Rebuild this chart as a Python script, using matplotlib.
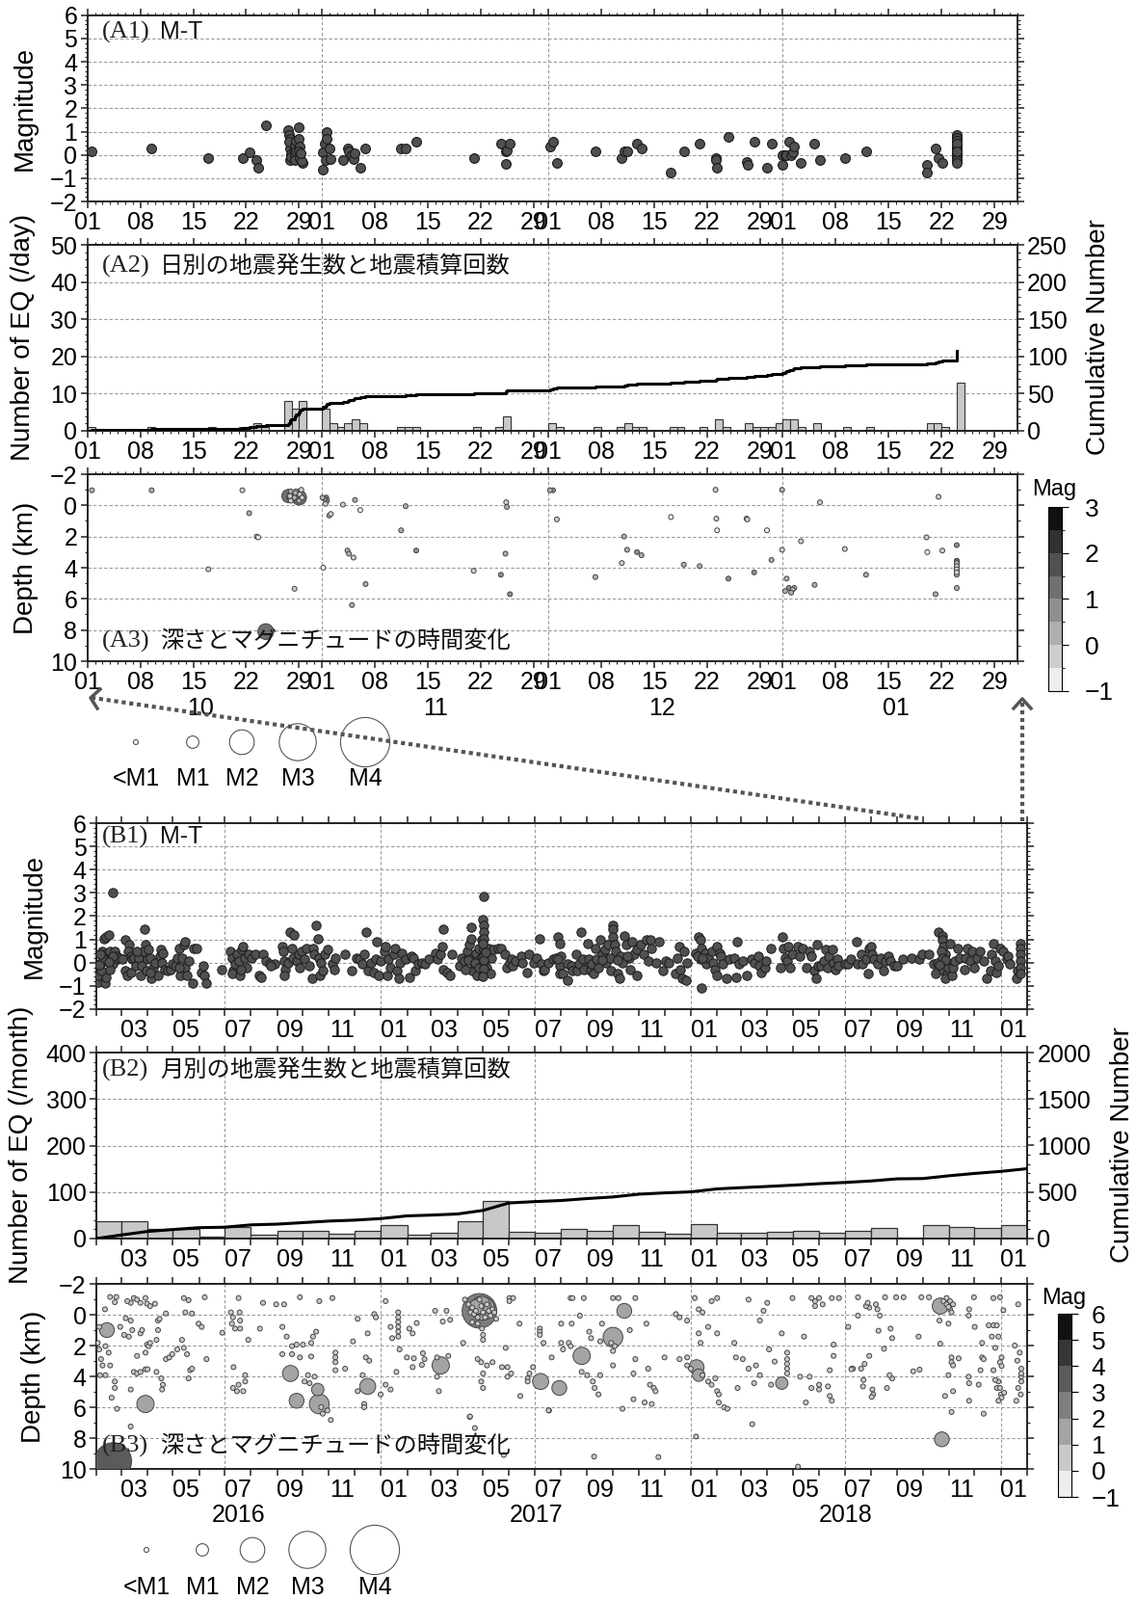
import numpy as np
import matplotlib
matplotlib.use("Agg")
import matplotlib.pyplot as plt
import matplotlib.dates as mdates
import matplotlib.transforms as mtransforms
from matplotlib.colors import ListedColormap, BoundaryNorm
from matplotlib.cm import ScalarMappable
from matplotlib.ticker import MultipleLocator, FixedLocator, FixedFormatter, NullFormatter
from datetime import datetime

plt.rcParams['font.family'] = ['Liberation Sans', 'Noto Sans CJK JP', 'DejaVu Sans']

W, H = 1179, 1660
TICK_FS = 18

# ---------------- A: Oct 2018 - Jan 2019 (days since 2018-10-01, magnitude, depth km)
a_events = [
    (0.6, 0.17, -0.97), (8.5, 0.28, -0.97), (16.0, -0.14, 4.1), (20.5, -0.14, -0.97), (21.4, 0.10, 0.5),
    (22.4, -0.20, 2.0), (22.6, -0.55, 2.05), (23.6, 1.28, 8.1),
    (26.6, 1.08, -0.6), (26.7, 0.86, -0.5), (26.8, 0.70, -0.7), (26.8, 0.28, -0.4), (26.9, 0.03, -0.9),
    (26.8, -0.20, -0.6), (26.9, -0.10, -0.3), (26.7, 0.55, -0.5),
    (27.4, 0.25, -0.5), (27.5, 0.00, -0.8), (27.4, -0.24, 5.35), (27.5, 0.40, -0.6), (27.6, 0.60, -0.4), (27.6, 0.15, -0.9),
    (28.0, 1.20, -0.5), (28.0, 0.70, -0.6), (28.1, 0.35, -0.9), (28.0, 0.14, -0.3), (28.1, -0.14, -0.7),
    (28.4, -0.35, -0.5), (28.3, -0.28, -1.0), (28.2, 0.05, -0.6),
    (31.2, -0.65, 4.0), (31.1, 0.10, -0.5), (31.4, 0.50, -0.4), (31.6, 0.97, -0.5), (31.7, 0.70, -0.3), (31.5, -0.24, -0.1),
    (32.0, 0.28, 0.65), (32.2, -0.17, 0.55),
    (33.8, -0.24, -0.05), (34.4, 0.28, 2.9), (34.6, 0.14, 3.1),
    (35.0, 0.00, 6.4), (35.2, -0.17, 3.35), (35.4, 0.05, -0.35),
    (36.1, -0.55, 0.3), (36.8, 0.28, 5.05),
    (41.5, 0.28, 1.6), (42.1, 0.28, 0.05), (43.5, 0.55, 2.9),
    (51.1, -0.14, 4.2), (54.7, 0.50, 4.45),
    (55.3, 0.14, 3.1), (55.4, -0.40, -0.2), (55.5, 0.20, 0.1), (55.9, 0.50, 5.7),
    (61.2, 0.35, -0.97), (61.6, 0.55, -0.97), (62.1, -0.35, 0.9),
    (67.2, 0.17, 4.6), (70.7, -0.14, 3.7), (71.0, 0.14, 2.0), (71.4, 0.17, 2.85), (72.7, 0.50, 3.0), (73.3, 0.28, 3.2),
    (77.2, -0.74, 0.75), (78.9, 0.17, 3.8), (81.0, 0.47, 3.9),
    (83.1, -0.14, -1.0), (83.2, -0.24, 0.85), (83.3, -0.55, 1.6), (84.8, 0.76, 4.7),
    (87.2, -0.32, 0.85), (87.3, -0.44, 0.9), (88.2, 0.55, 4.3), (89.9, -0.55, 1.6), (90.5, 0.47, 3.5),
    (91.9, 0.00, -1.0), (91.9, -0.44, 2.85), (92.3, 0.00, 5.5), (92.5, 0.00, 4.7), (92.8, 0.55, 5.3),
    (93.1, 0.00, 5.6), (93.3, 0.10, 5.4), (93.5, 0.35, 5.3), (94.4, -0.35, 2.3),
    (96.2, 0.47, 5.1), (96.9, -0.24, -0.2), (100.2, -0.14, 2.8), (103.0, 0.17, 4.45),
    (111.0, -0.44, 2.05), (111.1, -0.74, 3.0), (112.2, 0.28, 5.7), (112.6, -0.14, -0.55), (113.1, -0.35, 2.9),
    (115.0, 0.85, 2.55), (115.0, 0.75, 3.55), (115.0, 0.60, 3.8), (115.0, 0.45, 4.05), (115.0, 0.30, 4.25),
    (115.0, 0.20, 4.45), (115.0, 0.10, 5.3), (115.0, 0.00, 3.7), (115.0, -0.10, 3.9), (115.0, -0.20, 4.1),
    (115.0, -0.35, 4.3), (115.0, 0.50, 3.6), (115.0, 0.15, 4.0),
]

# ---------------- B: Feb 2016 - Jan 2019 (months since 2016-02-01, magnitude)
b1_2016 = [
    (0.06, -0.2), (0.09, -0.83), (0.06, -0.55), (0.19, 0.0), (0.31, 1.03), (0.41, 1.1), (0.5, 1.2), (0.25, 0.48),
    (0.37, 0.35), (0.43, 0.14), (0.56, 0.48), (0.62, 0.2), (0.68, -0.07), (0.75, 0.48), (0.81, 0.28), (0.87, 0.14),
    (0.93, 0.2), (0.37, -0.9), (0.41, -0.62), (0.19, -0.35), (0.56, -0.28), (0.68, 0.28), (0.29, 0.14), (0.16, 0.35),
    (0.65, 3.0), (0.12, -0.1), (0.5, 0.05),
    (1.18, 0.97), (1.3, 0.79), (1.28, 0.48), (1.37, 0.28), (1.43, 0.14), (1.16, -0.35), (1.24, -0.55), (1.37, -0.41),
    (1.49, 0.2), (1.55, -0.14), (1.68, 0.2), (1.74, -0.55), (1.8, -0.14), (1.9, 1.42), (1.93, 0.79), (1.86, 0.48),
    (1.99, 0.14), (1.06, 0.14), (1.61, 0.48), (1.95, -0.35),
    (2.05, 0.55), (2.11, 0.2), (2.17, -0.69), (2.24, -0.2), (2.3, 0.0), (2.42, -0.55), (2.48, 0.28), (2.55, 0.55),
    (2.57, 0.0), (2.61, 0.41), (2.7, -0.28), (2.8, -0.35), (2.92, -0.28), (2.98, -0.07), (2.11, -0.41),
    (3.11, -0.14), (3.17, 0.2), (3.23, 0.62), (3.29, -0.55), (3.35, 0.2), (3.42, 0.76), (3.45, 0.9), (3.48, -0.2),
    (3.54, -0.55), (3.6, 0.07), (3.76, -0.9), (3.79, 0.62), (3.91, 0.62), (3.23, -0.2),
    (4.1, -0.41), (4.16, -0.14), (4.22, -0.55), (4.29, -0.9), (4.88, -0.28),
    (5.22, 0.48), (5.28, 0.2), (5.34, -0.35), (5.28, -0.48), (5.4, -0.07), (5.47, 0.35), (5.53, 0.07), (5.59, -0.55),
    (5.65, 0.55), (5.71, 0.69), (5.78, 0.2), (5.84, -0.2), (5.9, 0.35), (5.63, -0.28),
    (6.02, 0.2), (6.15, 0.35), (6.3, -0.55), (6.4, -0.62), (6.46, 0.35), (6.58, 0.07), (6.71, -0.07), (6.89, -0.07),
    (6.77, -0.14),
    (7.2, 0.69), (7.24, 0.48), (7.27, 0.07), (7.33, -0.28), (7.27, -0.55), (7.42, 0.0), (7.52, 1.31), (7.58, 0.62),
    (7.61, 0.2), (7.66, 1.2), (7.76, 0.07), (7.83, 0.35), (7.89, -0.2), (7.95, 0.48),
    (8.07, 0.14), (8.14, 0.62), (8.26, -0.14), (8.36, -0.69), (8.39, 0.62), (8.45, 0.35), (8.51, 1.59), (8.57, 1.03),
    (8.63, 0.2), (8.66, -0.55), (8.7, 0.0), (8.76, -0.35), (8.82, 0.35), (8.94, 0.55),
    (9.13, -0.07), (9.19, -0.28), (9.25, 0.2), (9.63, 0.35), (9.9, -0.35),
    (10.06, 0.2), (10.19, 0.14), (10.31, -0.07), (10.37, 0.35), (10.43, 1.31), (10.5, -0.35), (10.62, 0.0),
    (10.75, -0.41), (10.81, 0.14), (10.84, 0.9), (10.93, -0.55), (10.99, 0.07),
]
b1_2017 = [
    (11.12, 0.48), (11.18, 0.69), (11.24, -0.55), (11.3, 0.14), (11.37, -0.2), (11.49, 0.35), (11.55, 0.62),
    (11.61, -0.35), (11.68, -0.69), (11.74, 0.0), (11.8, 0.41), (11.93, 0.14), (12.11, -0.62),
    (12.17, 0.28), (12.24, 0.2), (12.36, -0.35), (12.48, -0.07), (12.61, 0.0), (12.73, -0.07), (12.92, 0.14),
    (13.17, 0.41), (13.23, 0.14), (13.35, 0.35), (13.42, 0.69), (13.48, 1.42), (13.48, -0.28), (13.6, -0.41),
    (13.73, -0.55), (13.79, 0.35),
    (14.1, -0.14), (14.16, 0.2), (14.29, 0.07), (14.41, 0.48), (14.47, 0.76), (14.53, 1.52), (14.53, 1.03),
    (14.6, 0.2), (14.6, -0.35), (14.66, -0.07), (14.72, 0.41), (14.78, -0.55), (14.84, 0.62), (14.91, 0.2),
    (14.94, -0.2), (14.97, 0.97), (14.3, -0.3), (14.45, 0.1), (14.7, 0.0), (14.85, -0.2),
    (15.0, 1.86), (15.02, 1.59), (15.02, 1.31), (15.04, 1.03), (15.02, 0.55), (15.02, 0.0), (15.02, -0.48),
    (15.09, 0.35), (15.16, -0.2), (15.22, 0.62), (15.28, -0.48), (15.34, 0.2), (15.4, 0.55), (15.59, 0.62),
    (15.71, 0.62), (15.84, 0.35), (15.9, -0.2), (15.03, 2.85), (15.01, 0.8), (15.01, 0.25), (15.03, -0.25),
    (15.05, 0.1), (15.12, 0.45), (15.0, -0.6),
    (16.02, 0.0), (16.09, 0.14), (16.15, -0.14), (16.27, 0.07), (16.46, 0.28), (16.52, 0.0), (16.71, -0.41),
    (16.77, 0.35), (16.96, 0.0),
    (17.08, 0.2), (17.2, 1.03), (17.27, -0.07), (17.33, -0.35), (17.39, -0.28), (17.52, 0.0), (17.7, 0.14),
    (17.83, 0.2), (17.95, -0.14), (17.89, 1.1), (17.95, 0.83), (18.01, 0.28), (17.89, 0.14), (17.95, -0.48),
    (18.07, -0.48), (18.26, -0.07), (18.26, -0.76), (18.39, -0.14), (18.45, -0.35), (18.57, 0.35), (18.63, -0.35),
    (18.7, -0.07), (18.76, 1.31), (18.88, -0.28), (18.94, 0.07), (18.82, 0.14),
    (19.01, 0.83), (19.07, 0.14), (19.13, -0.35), (19.19, -0.07), (19.25, -0.48), (19.32, 0.62), (19.38, 0.14),
    (19.5, 0.97), (19.57, 0.35), (19.69, 0.55), (19.75, 0.0), (19.81, 0.76), (19.88, 0.2), (19.94, -0.35),
    (19.99, 1.59), (19.99, 1.45), (19.99, 1.1), (19.6, 0.1), (19.45, -0.2),
    (20.06, 0.76), (20.12, 0.48), (20.19, -0.48), (20.25, -0.69), (20.31, 0.28), (20.37, 0.0), (20.43, 1.17),
    (20.5, 0.76), (20.62, 0.2), (20.68, -0.28), (20.75, 0.9), (20.81, 0.35), (20.91, -0.55), (20.93, 0.55),
    (20.2, 0.1), (20.55, 0.3),
    (21.06, 0.76), (21.18, 0.35), (21.3, 0.97), (21.37, 0.07), (21.43, 0.97), (21.49, 0.62), (21.68, 0.0),
    (21.8, 0.9), (21.93, -0.35),
    (22.05, 0.07), (22.17, 0.0), (22.42, -0.48), (22.48, 0.2), (22.55, 0.69), (22.61, -0.28), (22.67, -0.69),
    (22.73, 0.48), (22.8, -0.76), (22.86, 0.0),
]
b1_2018 = [
    (23.17, 0.41), (23.29, 1.1), (23.35, 0.97), (23.35, 0.14), (23.39, -1.1), (23.42, 0.62), (23.54, 0.41),
    (23.6, -0.07), (23.66, 0.2), (23.79, 0.48), (23.85, 0.0), (23.91, -0.28), (23.98, 0.69), (23.98, -0.55),
    (23.25, 0.3), (23.45, 0.2),
    (24.1, 0.41), (24.16, 0.28), (24.22, -0.07), (24.41, -0.69), (24.53, 0.14), (24.72, 0.2), (24.78, -0.62),
    (24.84, 0.9), (24.91, -0.07),
    (25.09, 0.07), (25.22, -0.55), (25.4, 0.14), (25.53, 0.0), (25.65, 0.28), (25.71, -0.14), (25.78, -0.41),
    (25.9, -0.2), (25.96, 0.07),
    (26.15, 0.62), (26.52, -0.2), (26.58, 1.1), (26.65, 0.62), (26.71, 0.2), (26.77, 0.07), (26.83, 0.69),
    (26.89, -0.2), (26.96, 0.35),
    (27.2, 0.69), (27.27, 0.28), (27.39, 0.62), (27.52, -0.2), (27.64, 0.48), (27.7, 0.28), (27.83, -0.35),
    (27.89, -0.69), (27.91, 0.76), (27.95, -0.14),
    (28.07, -0.14), (28.2, 0.07), (28.26, 0.55), (28.32, -0.2), (28.39, 0.28), (28.51, 0.55), (28.57, 0.0),
    (28.63, -0.28), (28.7, 0.14), (28.76, -0.14), (29.01, -0.07),
    (29.13, -0.07), (29.25, 0.14), (29.44, 0.9), (29.5, -0.07), (29.63, 0.35), (29.69, -0.07), (29.81, 0.14),
    (29.88, -0.48), (29.94, 0.62), (30.0, 0.69),
    (30.06, 0.35), (30.12, 0.14), (30.25, -0.07), (30.37, 0.2), (30.5, -0.35), (30.56, 0.07), (30.68, 0.28),
    (30.75, 0.07), (30.87, -0.14), (30.99, -0.14),
    (31.24, 0.14), (31.55, 0.2), (31.86, 0.14), (31.99, 0.35),
    (32.24, 0.35), (32.42, -0.07), (32.48, -0.48), (32.55, 0.0), (32.61, 1.31), (32.73, 1.17), (32.76, 0.97),
    (32.8, 0.69), (32.86, 0.35), (32.92, 0.0), (32.8, -0.35), (32.92, -0.48), (32.98, -0.2), (32.86, -0.69),
    (32.7, 0.5), (32.75, 0.2), (32.85, 0.1), (32.65, -0.1),
    (33.04, 0.83), (33.11, -0.55), (33.17, -0.2), (33.23, 0.07), (33.33, 0.62), (33.42, 0.2), (33.6, -0.28),
    (33.66, 0.2), (33.73, 0.62), (33.85, 0.07), (33.91, 0.48), (33.98, -0.2),
    (34.1, 0.2), (34.22, 0.48), (34.35, 0.07), (34.47, -0.69), (34.6, -0.35), (34.66, 0.35), (34.72, 0.83),
    (34.78, 0.07), (34.84, -0.41), (34.91, -0.14), (34.97, 0.62),
    (35.09, 0.48), (35.22, 0.14), (35.28, 0.28), (35.34, -0.07), (35.59, -0.69), (35.65, -0.35), (35.74, 0.83),
    (35.74, 0.62), (35.74, 0.35), (35.74, 0.07), (35.74, -0.2), (35.74, -0.48),
]

# monthly counts Feb 2016 .. Jan 2019
b2_counts = [38, 38, 21, 20, 5, 25, 8, 16, 17, 10, 17,
             29, 8, 12, 38, 81, 14, 12, 21, 17, 30, 14, 11,
             32, 13, 13, 14, 16, 13, 16, 23, 3, 30, 25, 22, 29]

# (months since 2016-02-01, depth km, magnitude)
b3_2016 = [
    (0.35, -0.35, 0.3), (0.56, -1.15, 0.2), (0.81, -1.15, 0.2), (0.75, -0.81, 0.3), (0.43, 1.0, 1.2), (0.12, 0.79, 0.3),
    (0.06, 1.83, 0.3), (0.12, 2.25, 0.3), (0.19, 2.88, 0.3), (0.25, 3.29, 0.3), (0.15, 3.92, 0.3), (0.37, 2.04, 0.3),
    (0.5, 2.46, 0.3), (0.56, 3.29, 0.3), (0.37, 3.92, 0.3), (0.62, 5.38, 0.3), (0.75, 4.75, 0.3), (0.75, 4.33, 0.3),
    (0.84, 6.1, 0.3), (0.97, 0.79, 0.3), (0.68, 9.5, 3.0),
    (1.12, 1.31, 0.3), (1.18, 0.23, 0.3), (1.24, -0.88, 0.2), (1.37, -0.77, 0.2), (1.49, -1.08, 0.2), (1.61, -0.98, 0.2),
    (1.74, -0.77, 0.2), (1.93, -1.08, 0.2), (1.99, -0.71, 0.2), (2.11, -0.56, 0.2), (2.3, -0.71, 0.2),
    (1.3, 1.42, 0.3), (1.43, 1.0, 0.3), (1.37, 0.38, 0.3), (1.61, 2.67, 0.3), (1.74, 1.21, 0.3), (1.8, 1.0, 0.3),
    (1.99, 1.94, 0.3), (2.05, 2.04, 0.3), (2.11, 1.83, 0.3), (1.93, 2.46, 0.3), (2.36, 1.63, 0.3), (2.42, 1.0, 0.3),
    (2.42, 0.38, 0.3), (2.48, 0.27, 0.3), (2.73, -0.08, 0.3),
    (1.49, 3.71, 0.3), (1.61, 3.81, 0.3), (1.74, 3.71, 0.3), (1.93, 3.54, 0.3), (2.01, 3.54, 0.3), (1.37, 4.85, 0.3),
    (1.93, 5.79, 1.4), (1.37, 7.25, 0.3),
    (2.36, 3.71, 0.3), (2.55, 4.13, 0.3), (2.61, 4.54, 0.3), (2.58, 4.85, 0.3), (2.73, 2.88, 0.3), (2.86, 2.77, 0.3),
    (2.98, 2.56, 0.3), (3.17, 2.25, 0.3), (3.35, 1.63, 0.3), (3.42, 2.15, 0.3), (3.54, 2.56, 0.3), (3.6, 4.13, 0.3),
    (3.66, 3.6, 0.3), (3.73, 3.5, 0.3),
    (3.42, -1.08, 0.2), (3.6, -0.94, 0.2), (4.22, -1.13, 0.2), (3.48, -0.15, 0.2), (3.73, -0.08, 0.2), (3.98, 0.58, 0.3),
    (4.1, 0.79, 0.3), (4.29, 2.88, 0.3), (4.91, 1.17, 0.3),
    (5.24, -0.15, 0.2), (5.32, 0.17, 0.2), (5.28, 0.58, 0.3), (5.4, 0.9, 0.3), (5.53, -1.08, 0.2), (5.57, -0.15, 0.3),
    (5.59, 0.38, 0.3), (5.59, 0.9, 0.3), (5.34, 3.4, 0.3), (5.32, 4.75, 0.3), (5.47, 4.96, 0.3), (5.53, 4.54, 0.3),
    (5.71, 4.96, 0.3), (5.78, 4.33, 0.3), (5.78, 3.92, 0.3), (5.9, 1.63, 0.3),
    (6.34, 0.9, 0.3), (6.46, -0.77, 0.2), (6.96, -0.67, 0.3), (7.27, -0.67, 0.3), (7.89, -1.13, 0.2), (8.63, -0.88, 0.2),
    (9.13, -1.08, 0.2), (7.2, 0.79, 0.3), (7.37, 1.42, 0.3), (7.58, 2.04, 0.3), (7.76, 1.94, 0.3), (8.01, 1.94, 0.3),
    (8.39, 1.42, 0.3), (8.32, 1.83, 0.3), (8.51, 1.1, 0.3), (7.2, 2.56, 0.3), (7.58, 2.56, 0.3), (7.89, 2.77, 0.3),
    (8.32, 2.71, 0.3), (7.52, 3.81, 1.3), (7.76, 5.58, 1.2), (8.63, 5.79, 1.6), (8.57, 4.85, 1.0), (8.2, 3.92, 0.3),
    (8.26, 4.44, 0.3), (8.07, 4.33, 0.3), (8.45, 4.02, 0.3), (8.7, 6.0, 0.3), (8.76, 6.42, 0.3), (8.94, 6.21, 0.3),
    (9.07, 6.83, 0.3), (9.25, 2.46, 0.3), (9.25, 2.77, 0.3), (9.25, 3.08, 0.3), (9.25, 3.6, 0.3), (9.63, 3.5, 0.3),
    (9.94, 1.73, 0.3), (10.12, 0.27, 0.3), (10.5, 1.21, 0.3), (10.43, 2.77, 0.3), (10.56, 2.98, 0.3),
    (10.12, 4.96, 0.3), (10.31, 3.92, 0.3), (10.37, 5.79, 0.3), (10.37, 6.0, 0.3), (10.5, 4.65, 1.3),
    (10.75, -0.04, 0.3), (10.81, 0.17, 0.3), (11.18, -0.88, 0.2), (11.37, 0.79, 0.3), (11.43, 1.52, 0.3),
    (10.99, 5.17, 0.3), (11.18, 4.54, 0.3), (11.37, 4.85, 0.3),
]
b3_2017 = [
    (11.66, -0.15, 0.3), (11.66, 0.17, 0.3), (11.66, 0.48, 0.3), (11.66, 0.79, 0.3), (11.66, 1.1, 0.3), (11.66, 1.42, 0.3),
    (12.09, 0.9, 0.3), (12.4, 0.54, 0.3), (12.23, 1.21, 0.3), (11.71, 2.25, 0.3), (11.59, 3.71, 0.3), (11.99, 2.77, 0.3),
    (12.28, 2.83, 0.3), (12.66, 2.5, 0.3), (12.73, 2.88, 0.3), (12.23, 3.4, 0.3), (12.62, 3.25, 0.3),
    (13.16, -0.25, 0.3), (13.59, -0.25, 0.3), (13.45, 0.44, 0.3), (13.73, 0.33, 0.3), (13.37, 3.29, 1.4),
    (13.23, 4.02, 0.3), (13.3, 4.96, 0.3), (13.23, 2.77, 0.3), (13.66, 2.67, 0.3),
    (14.23, 1.83, 0.3), (14.49, 6.63, 0.3), (14.87, -0.25, 2.8), (15.0, -0.4, 1.9), (14.95, -0.6, 1.5), (14.75, -0.5, 1.2),
    (14.3, -0.98, 0.2), (14.44, -0.67, 0.3), (14.59, -0.46, 0.3), (14.66, -0.04, 0.3), (14.73, -0.25, 0.3),
    (14.8, 0.17, 0.3), (14.87, -0.98, 0.2), (14.94, -0.56, 0.3), (15.01, -0.15, 0.3), (15.09, 0.17, 0.3),
    (15.16, -0.67, 0.3), (15.23, -0.25, 0.3), (15.3, 0.06, 0.3), (15.37, -0.35, 0.3), (15.44, -0.15, 0.3),
    (15.51, 0.27, 0.3), (14.52, -0.15, 0.3), (14.59, 0.48, 0.3), (14.8, 0.58, 0.3),
    (14.97, 0.9, 0.3), (15.01, 1.31, 0.3), (15.01, 1.63, 0.3), (14.8, 2.88, 0.3), (14.94, 3.08, 0.3), (15.16, 3.29, 0.3),
    (15.37, 3.08, 0.3), (15.73, 3.4, 0.3), (15.01, 3.81, 0.3), (14.94, 4.33, 0.3), (15.01, 4.75, 0.3),
    (16.01, -1.08, 0.2), (16.16, -1.08, 0.2), (16.01, -0.88, 0.2), (16.41, 0.58, 0.3), (15.87, 2.15, 0.3),
    (15.94, 3.4, 0.3), (16.08, 3.81, 0.3), (15.94, 4.02, 0.3), (16.44, 5.27, 0.3), (16.94, 3.4, 0.3), (16.8, 3.81, 0.3),
    (16.73, 4.13, 0.3), (16.73, 4.33, 0.3), (17.23, 4.33, 1.3),
    (17.2, 0.9, 0.3), (17.2, 1.1, 0.3), (17.2, 1.31, 0.3), (17.34, 1.83, 0.3), (17.65, 2.77, 0.3), (18.01, 0.58, 0.3),
    (18.41, 0.58, 0.3), (18.01, 1.83, 0.3), (18.08, 2.25, 0.3), (18.3, 1.83, 0.3), (18.37, 2.04, 0.3),
    (17.94, 4.75, 1.2), (17.55, 6.21, 0.3),
    (18.37, -1.08, 0.2), (18.87, -1.08, 0.2), (18.44, -1.08, 0.2), (18.72, 0.06, 0.3), (19.08, 1.1, 0.3),
    (19.15, 1.52, 0.3), (18.79, 2.67, 1.4), (18.79, 3.71, 0.3), (19.0, 3.92, 0.3), (19.22, 4.33, 0.3),
    (19.51, 3.92, 0.3), (19.29, 4.75, 0.3), (19.44, 5.17, 0.3), (19.58, 0.58, 0.3), (19.51, 1.73, 0.3),
    (20.01, -1.08, 0.2), (20.22, -1.08, 0.2), (20.86, -1.08, 0.2), (20.44, -0.25, 1.2), (20.01, 1.46, 1.6),
    (19.94, 1.83, 0.3), (20.08, 2.04, 0.3), (20.01, 2.35, 0.3), (20.65, 1.0, 0.3), (21.29, 0.58, 0.3),
    (20.01, 3.29, 0.3), (20.86, 2.88, 0.3), (20.79, 3.81, 0.3), (21.36, 3.5, 0.3), (21.43, 4.54, 0.3),
    (21.58, 4.75, 0.3), (21.65, 4.96, 0.3), (20.37, 6.1, 0.3), (20.79, 5.48, 0.3), (21.22, 5.69, 0.3), (21.5, 5.79, 0.3),
    (22.0, 2.77, 0.3), (22.57, 2.88, 0.3), (22.86, 2.77, 0.3), (22.43, -0.04, 0.3), (22.57, 0.17, 0.3), (22.86, 0.38, 0.3),
    (15.8, 9.1, 0.3), (14.5, 6.6, 0.3), (14.69, 7.35, 0.3), (17.53, 6.2, 0.3), (19.27, 9.2, 0.3), (21.76, 9.23, 0.3),
]
b3_2018 = [
    (23.15, -1.08, 0.2), (24.0, -1.08, 0.2), (23.79, -0.88, 0.2), (23.3, -0.35, 0.3), (23.44, -0.15, 0.3),
    (23.3, 1.21, 0.3), (23.66, 0.79, 0.3), (24.0, 1.21, 0.3), (23.37, 1.83, 0.3), (23.22, 3.4, 1.2), (23.3, 3.92, 1.0),
    (23.0, 3.5, 0.3), (22.86, 3.29, 0.3), (23.93, 4.13, 0.3), (24.0, 4.96, 0.3), (24.07, 5.17, 0.3), (24.29, 6.0, 0.3),
    (24.43, 6.1, 0.3), (24.07, 5.69, 0.3), (23.44, 3.92, 0.3), (23.66, 4.33, 0.3), (23.79, 4.54, 0.3), (23.2, 7.9, 0.3),
    (24.72, 1.83, 0.3), (24.79, 2.77, 0.3), (25.29, -0.98, 0.2), (25.07, 2.88, 0.3), (24.86, 4.75, 0.3),
    (25.72, 0.38, 0.3), (25.86, -0.25, 0.3), (26.0, -0.77, 0.2), (26.57, 1.21, 0.3), (26.07, 2.25, 0.3),
    (26.78, 2.46, 0.3), (26.78, 2.88, 0.3), (26.78, 3.19, 0.3), (26.78, 3.5, 0.3), (26.78, 3.81, 0.3),
    (26.57, 4.44, 1.0), (25.29, 3.5, 0.3), (25.57, 3.29, 0.3), (25.72, 3.92, 0.3), (25.5, 4.44, 0.3),
    (26.15, 4.54, 0.3), (26.29, 3.04, 0.3), (25.43, 7.1, 0.3), (27.2, 9.85, 0.3),
    (26.99, -1.08, 0.2), (27.71, -1.08, 0.2), (28.0, -1.08, 0.2), (28.5, -1.08, 0.2), (28.78, -1.08, 0.2),
    (27.85, -0.88, 0.2), (27.85, -0.56, 0.3), (28.14, -0.67, 0.3), (27.43, 1.42, 0.3), (28.57, 1.94, 0.3),
    (28.57, 2.67, 0.3), (29.14, 0.79, 0.3), (28.42, 3.6, 0.3), (29.28, 3.5, 0.3), (27.28, 4.02, 0.3),
    (27.64, 4.02, 0.3), (27.71, 4.75, 0.3), (28.0, 4.85, 0.3), (28.35, 4.65, 0.3), (28.42, 5.27, 0.3),
    (28.5, 5.58, 0.3), (27.5, 5.69, 0.3), (28.0, 4.54, 0.3),
    (29.51, -1.13, 0.2), (29.88, -0.77, 0.2), (29.94, -0.46, 0.3), (30.19, -0.67, 0.3), (30.25, -0.35, 0.3),
    (30.34, 0.06, 0.3), (29.51, 0.06, 0.3), (29.82, -0.56, 0.3), (30.54, -1.13, 0.2), (30.96, -1.13, 0.2),
    (31.25, -1.13, 0.2), (31.95, -1.13, 0.2), (32.24, -1.13, 0.2), (30.29, 1.04, 0.3), (30.75, 0.9, 0.3),
    (30.81, 1.52, 0.3), (30.5, 2.21, 0.3), (29.94, 2.67, 0.3), (29.76, 3.19, 0.3), (29.63, 3.5, 0.3),
    (29.32, 3.5, 0.3), (29.26, 3.54, 0.3), (29.72, 4.23, 0.3), (29.7, 4.65, 0.3), (30.06, 4.85, 0.3),
    (30.09, 5.17, 0.3), (30.03, 5.33, 0.3), (30.61, 4.75, 0.3), (30.71, 3.92, 0.3), (30.81, 4.13, 0.3),
    (31.63, 3.67, 0.3), (31.88, 3.56, 0.3), (31.84, 1.42, 0.3),
    (32.67, -0.56, 1.3), (32.79, -0.88, 0.3), (32.91, -0.67, 0.3), (32.98, -0.5, 0.3), (33.04, -0.35, 0.3),
    (33.1, -0.15, 0.3), (32.91, -1.08, 0.2), (33.04, -0.88, 0.3), (33.16, -0.67, 0.3), (32.64, 0.38, 0.3),
    (32.98, 0.58, 0.3), (32.67, 1.88, 0.3), (32.73, 8.08, 1.2), (33.1, 2.77, 0.3), (33.1, 3.08, 0.3),
    (33.16, 3.29, 0.3), (33.38, 2.83, 0.3), (32.98, 3.92, 0.3), (32.85, 5.27, 0.3), (33.16, 4.96, 0.3),
    (33.1, 6.31, 0.3), (33.79, -0.35, 0.3), (33.77, 0.06, 0.3), (33.98, -1.13, 0.2), (34.01, 0.79, 0.3),
    (34.29, 1.83, 0.3), (34.29, 2.77, 0.3), (34.35, 2.88, 0.3), (34.23, 3.6, 0.3), (33.77, 4.02, 0.3),
    (33.79, 4.44, 0.3), (34.16, 4.54, 0.3), (33.79, 5.58, 0.3), (34.35, 6.42, 0.3), (34.54, 0.69, 0.3),
    (34.72, 0.69, 0.3), (34.85, 0.69, 0.3), (34.66, 1.42, 0.3), (34.91, 1.42, 0.3), (34.79, 2.15, 0.3),
    (35.03, 2.77, 0.3), (34.97, 3.08, 0.3), (35.03, 3.33, 0.3), (34.72, 3.6, 0.3), (34.79, 4.23, 0.3),
    (34.91, 4.33, 0.3), (34.85, 4.75, 0.3), (34.97, 4.75, 0.3), (35.01, 5.17, 0.3), (35.03, 5.38, 0.3),
    (34.91, 5.58, 0.3), (35.13, 5.06, 0.3), (34.72, -1.08, 0.2), (34.97, -1.13, 0.2), (35.1, -0.29, 0.3),
    (35.66, -0.67, 0.3), (35.53, 2.0, 0.3), (35.63, 2.98, 0.3), (35.72, 2.46, 0.3), (35.78, 3.5, 0.3),
    (35.78, 3.81, 0.3), (35.78, 4.02, 0.3), (35.78, 4.33, 0.3), (35.66, 4.75, 0.3), (35.76, 5.17, 0.3),
    (35.59, 5.58, 0.3),
]

legend_mags = [0.5, 1, 2, 3, 4]
legend_labels = ['<M1', 'M1', 'M2', 'M3', 'M4']


def month_start(i):
    # i months after 2016-02-01
    y = 2016 + (1 + i) // 12
    m = (1 + i) % 12 + 1
    return mdates.date2num(datetime(y, m, 1))


def month_num(t):
    i = int(np.floor(t))
    a, b = month_start(i), month_start(i + 1)
    return a + (t - i) * (b - a)


A0 = mdates.date2num(datetime(2018, 10, 1))


def msize(m):
    d = 5.0 if m < 1 else 12.8 * m
    return (d * 0.72) ** 2


def px_axes(fig, l, t, r, b):
    return fig.add_axes([l / W, 1 - b / H, (r - l) / W, (b - t) / H])


GRID = dict(color='#9a9a9a', ls=(0, (3, 2)), lw=0.8)


def style(ax, right=True):
    for s in ax.spines.values():
        s.set_linewidth(1.4)
        s.set_color('#222222')
    ax.tick_params(which='both', direction='out', top=True, right=right, color='#222222', labelsize=TICK_FS)
    ax.tick_params(which='major', length=5, width=1.1, pad=2.5)
    ax.tick_params(which='minor', length=2.5, width=0.8)


def a_xaxis(ax):
    ax.set_xlim(A0, A0 + 123)
    majors = []
    for y, m in [(2018, 10), (2018, 11), (2018, 12), (2019, 1)]:
        for d in [1, 8, 15, 22, 29]:
            majors.append(mdates.date2num(datetime(y, m, d)))
    ax.xaxis.set_major_locator(FixedLocator(majors))
    ax.xaxis.set_major_formatter(FixedFormatter(['%02d' % mdates.num2date(v).day for v in majors]))
    ax.xaxis.set_minor_locator(FixedLocator(np.arange(A0, A0 + 124)))
    for y, m in [(2018, 11), (2018, 12), (2019, 1)]:
        ax.axvline(mdates.date2num(datetime(y, m, 1)), **GRID, zorder=0)


def b_xaxis(ax):
    starts = [month_start(i) for i in range(37)]
    ax.set_xlim(starts[0], starts[-1])
    ax.xaxis.set_major_locator(FixedLocator(starts))
    ax.xaxis.set_major_formatter(NullFormatter())
    mids, labs = [], []
    for i in range(36):
        mo = mdates.num2date(starts[i]).month
        if mo % 2 == 1:
            mids.append((starts[i] + starts[i + 1]) / 2)
            labs.append('%02d' % mo)
    ax.xaxis.set_minor_locator(FixedLocator(mids))
    ax.xaxis.set_minor_formatter(FixedFormatter(labs))
    ax.tick_params(axis='x', which='minor', length=0, pad=7.5, labelsize=TICK_FS)
    ax.tick_params(axis='x', which='major', length=5)
    for i in range(37):
        mo = mdates.num2date(starts[i]).month
        if mo in (1, 7) and 0 < i < 36:
            ax.axvline(starts[i], **GRID, zorder=0)


def mag_axis(ax):
    ax.set_ylim(-2, 6)
    ax.yaxis.set_major_locator(MultipleLocator(1))
    ax.yaxis.set_minor_locator(MultipleLocator(0.2))
    ax.grid(axis='y', which='major', **GRID)
    ax.set_axisbelow(True)


def depth_axis(ax):
    ax.set_ylim(10, -2)
    ax.yaxis.set_major_locator(MultipleLocator(2))
    ax.yaxis.set_minor_locator(MultipleLocator(1))
    ax.grid(axis='y', which='major', **GRID)
    ax.set_axisbelow(True)


def gray_cmap(n):
    return ListedColormap(plt.cm.gray_r(np.linspace(0.07, 0.93, n)))


fig = plt.figure(figsize=(W / 100, H / 100), dpi=100)

a_t = np.array([A0 + e[0] for e in a_events])
a_m = np.array([e[1] for e in a_events])
a_d = np.array([e[2] for e in a_events])

# ---- A1
ax = px_axes(fig, 90.7, 15.7, 1055.7, 209)
style(ax)
mag_axis(ax)
a_xaxis(ax)
ax.scatter(a_t, a_m, s=50, facecolor='#505050', edgecolor='#1a1a1a', linewidth=0.8, zorder=3)

# ---- A2
ax = px_axes(fig, 90.7, 254, 1055.7, 447)
style(ax, right=False)
a_xaxis(ax)
ax.set_ylim(0, 50)
ax.yaxis.set_major_locator(MultipleLocator(10))
ax.yaxis.set_minor_locator(MultipleLocator(2))
ax.grid(axis='y', which='major', **GRID)
ax.set_axisbelow(True)
day_idx = np.floor(a_t - A0).astype(int)
daily = np.bincount(day_idx, minlength=123)
days = A0 + np.arange(len(daily))
ax.bar(days[daily > 0], daily[daily > 0], width=1, align='edge', color='#c8c8c8', edgecolor='#333333',
       linewidth=0.8, zorder=2)
axr = ax.twinx()
style(axr)
axr.tick_params(which='both', left=False, top=False)
axr.set_ylim(0, 250)
axr.yaxis.set_major_locator(MultipleLocator(50))
axr.yaxis.set_minor_locator(MultipleLocator(10))
ts = np.sort(a_t)
axr.step(np.concatenate([[A0], ts]), np.arange(len(ts) + 1), where='post', color='black', lw=2.2, zorder=4)

# ---- A3
ax = px_axes(fig, 90.7, 492, 1055.7, 686)
style(ax)
depth_axis(ax)
a_xaxis(ax)
cmap_a = gray_cmap(8)
norm_a = BoundaryNorm(np.arange(-1, 3.01, 0.5), 8)
order = np.argsort(-a_m)
ax.scatter(a_t[order], a_d[order], s=[msize(v) for v in a_m[order]], c=a_m[order], cmap=cmap_a, norm=norm_a,
           edgecolor='#444444', linewidth=0.7, zorder=3)
tr = mtransforms.blended_transform_factory(ax.transData, ax.transAxes)
for y, m, lab in [(2018, 10, '10'), (2018, 11, '11'), (2018, 12, '12'), (2019, 1, '01')]:
    ax.text(mdates.date2num(datetime(y, m, 16)), -0.255, lab, transform=tr, ha='center', va='center',
            fontsize=TICK_FS)
cax = px_axes(fig, 1088, 526, 1102, 717)
cb = fig.colorbar(ScalarMappable(norm=norm_a, cmap=cmap_a), cax=cax, ticks=[-1, 0, 1, 2, 3])
cb.outline.set_linewidth(0.8)
cax.tick_params(labelsize=19, length=5, width=0.8, pad=12)

# ---- B data
b1 = b1_2016 + b1_2017 + b1_2018
b1_t = np.array([month_num(t) for t, _ in b1])
b1_m = np.array([m for _, m in b1])
b3 = b3_2016 + b3_2017 + b3_2018
b3_t = np.array([month_num(e[0]) for e in b3])
b3_d = np.array([e[1] for e in b3])
b3_m = np.array([e[2] for e in b3])

# ---- B1
ax = px_axes(fig, 100, 854, 1066, 1047)
style(ax)
mag_axis(ax)
b_xaxis(ax)
ax.scatter(b1_t, b1_m, s=46, facecolor='#505050', edgecolor='#1a1a1a', linewidth=0.7, zorder=3)

# ---- B2
ax = px_axes(fig, 100, 1092, 1066, 1285)
style(ax, right=False)
b_xaxis(ax)
ax.set_ylim(0, 400)
ax.yaxis.set_major_locator(MultipleLocator(100))
ax.yaxis.set_minor_locator(MultipleLocator(20))
ax.grid(axis='y', which='major', **GRID)
ax.set_axisbelow(True)
starts = np.array([month_start(i) for i in range(37)])
ax.bar(starts[:-1], b2_counts, width=np.diff(starts), align='edge', color='#c8c8c8', edgecolor='#333333',
       linewidth=0.9, zorder=2)
axr = ax.twinx()
style(axr)
axr.tick_params(which='both', left=False, top=False)
axr.set_ylim(0, 2000)
axr.yaxis.set_major_locator(MultipleLocator(500))
axr.yaxis.set_minor_locator(MultipleLocator(100))
axr.plot(starts, np.concatenate([[0], np.cumsum(b2_counts)]), color='black', lw=2.2, zorder=4)

# ---- B3
ax = px_axes(fig, 100, 1332, 1066, 1524)
style(ax)
depth_axis(ax)
b_xaxis(ax)
cmap_b = gray_cmap(7)
norm_b = BoundaryNorm(np.arange(-1, 6.01, 1), 7)
order = np.argsort(-b3_m)
ax.scatter(b3_t[order], b3_d[order], s=[msize(v) for v in b3_m[order]], c=b3_m[order], cmap=cmap_b, norm=norm_b,
           edgecolor='#444444', linewidth=0.7, zorder=3)
tr = mtransforms.blended_transform_factory(ax.transData, ax.transAxes)
for lab, a, b in [('2016', month_start(0), month_start(11)), ('2017', month_start(11), month_start(23)),
                  ('2018', month_start(23), month_start(35))]:
    ax.text((a + b) / 2, -0.25, lab, transform=tr, ha='center', va='center', fontsize=TICK_FS)
cax = px_axes(fig, 1098, 1363, 1112, 1553)
cb = fig.colorbar(ScalarMappable(norm=norm_b, cmap=cmap_b), cax=cax, ticks=range(-1, 7))
cb.outline.set_linewidth(0.8)
cax.tick_params(labelsize=19, length=5, width=0.8, pad=10)

# ---- overlay: labels, legends, arrows
ov = fig.add_axes([0, 0, 1, 1], zorder=10)
ov.set_xlim(0, W)
ov.set_ylim(H, 0)
ov.axis('off')
ov.patch.set_alpha(0)

serif = dict(family='Liberation Serif', fontsize=19, va='center', ha='left', color='#222222')
sans = dict(fontsize=18, va='center', ha='left', color='#111111')
jp = dict(family=['Noto Sans CJK JP', 'DejaVu Sans'], fontsize=17.5, va='center', ha='left', color='#111111')
ov.text(106, 33, '(A1)', **serif)
ov.text(166, 33, 'M-T', **sans)
ov.text(106, 276, '(A2)', **serif)
ov.text(166, 276, '日別の地震発生数と地震積算回数', **jp)
ov.text(106, 665, '(A3)', **serif)
ov.text(166, 665, '深さとマグニチュードの時間変化', **jp)
ov.text(106, 868, '(B1)', **serif)
ov.text(166, 868, 'M-T', **sans)
ov.text(106, 1110, '(B2)', **serif)
ov.text(166, 1110, '月別の地震発生数と地震積算回数', **jp)
ov.text(106, 1500, '(B3)', **serif)
ov.text(166, 1500, '深さとマグニチュードの時間変化', **jp)

yl = dict(rotation=90, ha='center', va='center', fontsize=20)
ov.text(26, 112, 'Magnitude', **yl)
ov.text(24, 350, 'Number of EQ (/day)', **yl)
ov.text(27, 589, 'Depth (km)', **yl)
ov.text(36, 950, 'Magnitude', **yl)
ov.text(22, 1188, 'Number of EQ (/month)', **yl)
ov.text(35, 1428, 'Depth (km)', **yl)
ov.text(1140, 350, 'Cumulative Number', **yl)
ov.text(1165, 1188, 'Cumulative Number', **yl)
ov.text(1094, 508, 'Mag', ha='center', va='center', fontsize=17)
ov.text(1104, 1347, 'Mag', ha='center', va='center', fontsize=17)

for xs, yc, yt in [([141, 200, 251, 309, 379], 770, 808), ([152, 210, 262, 319, 389], 1608, 1647)]:
    ov.scatter(xs, [yc] * 5, s=[msize(m) for m in legend_mags], facecolor='none', edgecolor='#555555',
               linewidth=0.8)
    for x, lab in zip(xs, legend_labels):
        ov.text(x, yt, lab, ha='center', va='center', fontsize=18)

dot = dict(color='#555555', lw=3, ls=(0, (1, 0.9)), solid_capstyle='butt')
ov.plot([953, 96], [849, 724], **dot)
ov.plot([1061, 1061], [852, 727], **dot)
ov.plot([104, 94, 101], [715, 724, 735], color='#555555', lw=2.5)
ov.plot([1052, 1061, 1070], [735, 725, 735], color='#555555', lw=2.5)

fig.savefig('out.png', dpi=100)
